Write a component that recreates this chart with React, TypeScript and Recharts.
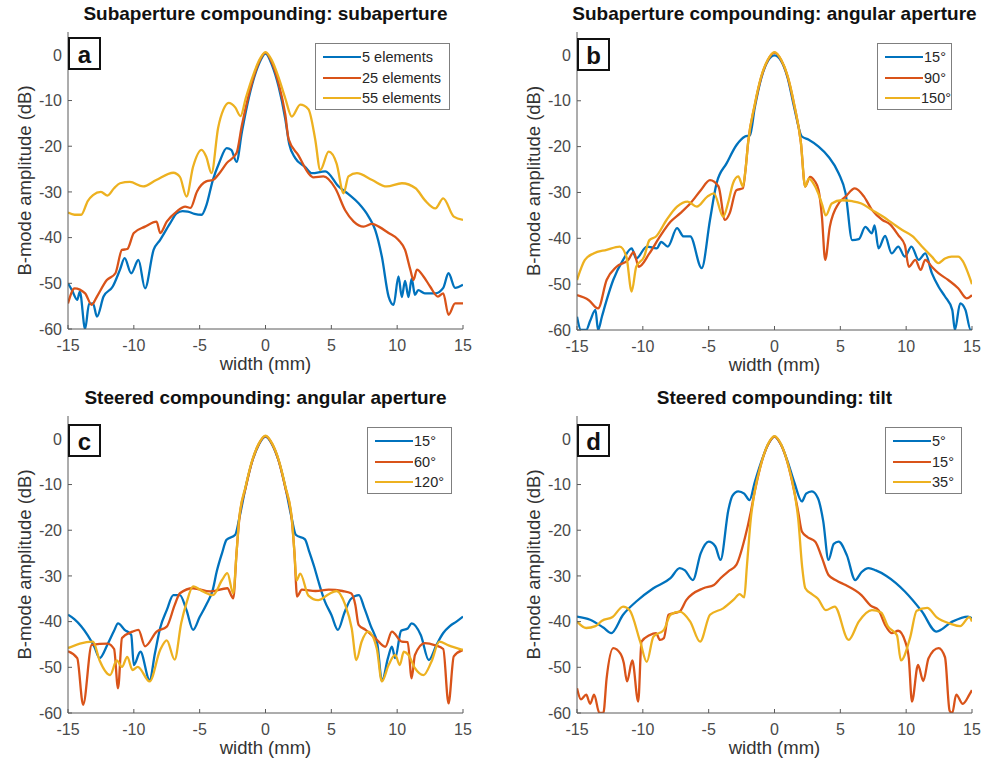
import React from 'react';
import { LineChart, Line, XAxis, YAxis, Legend } from 'recharts';

const FONT = '"Liberation Sans", Arial, Helvetica, sans-serif';
const COLORS = ['#0072BD', '#D95319', '#EDB120'];

const xTicks = [-15, -10, -5, 0, 5, 10, 15];
const yTicks = [-60, -50, -40, -30, -20, -10, 0];

// ---------- panel a: Subaperture compounding: subaperture ----------
const aNames = ['5 elements', '25 elements', '55 elements'];
const aBlue = [[-15,-50],[-14.7,-51.5],[-14.3,-53.6],[-14.1,-51.8],[-13.7,-60],[-13.4,-54.5],[-13.1,-54.4],[-12.8,-57.3],[-12.3,-52.9],[-11.6,-50.7],[-11.05,-47],[-10.7,-44.5],[-10.2,-47.8],[-9.65,-44.9],[-9.15,-51.1],[-8.5,-42.7],[-8,-40.5],[-7.25,-36.9],[-6.75,-34.7],[-6.3,-34.2],[-5.9,-34.3],[-5.4,-34.8],[-4.85,-35],[-4.5,-33],[-4,-27.4],[-3.5,-23.5],[-2.95,-20.4],[-2.6,-20.8],[-2.2,-23.4],[-1.8,-17],[-1.5,-12.5],[-1,-6.3],[-0.5,-2],[0,0.3],[0.5,-2.3],[1,-7],[1.5,-14],[1.8,-19.5],[2.26,-22.6],[3,-24.5],[3.53,-25.9],[4.54,-25.5],[5.55,-28.8],[6.3,-30.5],[7.07,-32.5],[7.83,-35.4],[8.33,-38.3],[8.84,-44.2],[9.35,-52.9],[9.73,-54.7],[10.1,-48.5],[10.35,-53],[10.6,-49.5],[10.86,-53],[11.1,-49],[11.35,-52.5],[11.6,-51.5],[12.1,-52.2],[12.9,-52.2],[13.5,-51],[13.9,-47.8],[14.4,-51],[15,-50.3]];
const aOrange = [[-15,-54.4],[-14.5,-51.1],[-13.7,-52.2],[-13.2,-54.7],[-12.8,-52.9],[-12.05,-49.3],[-11.4,-47.8],[-10.9,-42.7],[-10.5,-42.5],[-10,-39],[-9.15,-37.6],[-8.27,-36.5],[-8,-39],[-7.5,-36.5],[-6.75,-34.3],[-6.1,-33.2],[-5.7,-33.5],[-5.2,-29.9],[-4.5,-27.7],[-4,-27.4],[-3.5,-25.9],[-2.95,-23.7],[-2.2,-21.5],[-1.8,-15.5],[-1.5,-11.5],[-1,-5.8],[-0.5,-1.6],[0,0.5],[0.5,-1.8],[1,-6.3],[1.5,-13],[1.76,-18.5],[2.5,-22],[3.26,-25.9],[3.64,-26.8],[4.4,-26.6],[5.3,-29.2],[6.05,-34],[6.7,-36.5],[7.45,-37.6],[8.1,-37],[8.6,-37.6],[9.35,-39],[10.1,-40.5],[10.6,-42.7],[11,-47],[11.24,-49.3],[11.5,-47],[12,-48.5],[12.5,-50.7],[13.1,-52.9],[13.5,-52.2],[13.9,-56.9],[14.4,-54.4],[15,-54.4]];
const aYellow = [[-15,-34.5],[-14.5,-35],[-14,-35],[-13.5,-32],[-13.1,-30.7],[-12.5,-30],[-12,-30.8],[-11.5,-29.2],[-11.05,-28.1],[-10.3,-27.8],[-9.3,-28.8],[-8.3,-27.4],[-7,-25.8],[-6.5,-26.7],[-6,-31],[-5.5,-24.5],[-4.85,-20.8],[-4.5,-22.3],[-4.1,-25.9],[-3.6,-16],[-3.2,-12],[-2.8,-10.5],[-2.3,-11.5],[-1.9,-13.4],[-1.5,-9.5],[-1,-5],[-0.5,-1.3],[0,0.6],[0.5,-1.3],[1,-5],[1.5,-9.5],[2,-13.5],[2.64,-10.9],[3.26,-11.9],[3.77,-18.4],[4.16,-25.2],[4.8,-21.2],[5.4,-23.8],[5.93,-30.3],[6.3,-26.6],[6.94,-25.9],[8.1,-27.4],[9.2,-28.8],[10.36,-28.1],[11.4,-29.2],[12.1,-31.8],[12.9,-33.6],[13.5,-31.4],[14.3,-35.4],[15,-36.1]];

// ---------- panel b: Subaperture compounding: angular aperture ----------
const bNames = ['15°', '90°', '150°'];
const bBlue = [[-15,-57.1],[-14.7,-60],[-14.3,-60],[-14,-58],[-13.6,-55.6],[-13.4,-60],[-13.1,-57],[-12.75,-53.5],[-12.25,-49.1],[-11.5,-44.7],[-10.85,-42.2],[-10.5,-44.4],[-9.7,-41.8],[-8.95,-42.2],[-8.6,-40.8],[-8.1,-41.8],[-7.4,-37.8],[-6.9,-39.6],[-6.4,-39.6],[-5.53,-46.5],[-4.9,-36],[-4.4,-28],[-3.63,-23.6],[-2.87,-19.6],[-2.24,-17.8],[-1.86,-17.5],[-1.5,-11.5],[-1,-5],[-0.5,-1.3],[0,-0.1],[0.5,-1.3],[1,-5],[1.5,-11.5],[2.08,-17.8],[2.6,-18.5],[3.35,-20],[4.1,-22.2],[4.87,-25.8],[5.4,-30.2],[5.9,-40.4],[6.4,-40.2],[6.9,-37.5],[7.4,-38.9],[7.6,-37.2],[7.9,-42.2],[8.4,-39.5],[8.9,-43.3],[9.4,-41.8],[9.9,-44],[10.4,-41.8],[10.95,-44.7],[11.45,-43.3],[11.95,-47.6],[12.45,-50.5],[12.95,-52.7],[13.5,-55.6],[13.7,-60],[14.1,-54.2],[14.5,-55.6],[14.9,-60],[15,-60]];
const bOrange = [[-15,-52.4],[-14.1,-53.5],[-13.4,-55.3],[-12.75,-49.1],[-12,-46.2],[-11.1,-44.7],[-10.7,-43],[-10.3,-46.2],[-9.5,-43.3],[-8.7,-39.6],[-7.9,-36.4],[-7.15,-34.5],[-6.4,-32.4],[-5.6,-29.5],[-4.9,-27.3],[-4.25,-28.7],[-3.76,-36],[-3.4,-34.5],[-2.9,-29.5],[-2.4,-29.1],[-2.2,-25],[-2,-19],[-1.5,-11],[-1,-4.8],[-0.5,-1.1],[0,0.5],[0.5,-1.1],[1,-4.8],[1.5,-11],[2,-19],[2.33,-28.7],[2.7,-26.6],[3.05,-27.5],[3.35,-29.5],[3.6,-35.2],[3.85,-44.7],[4.2,-37.5],[4.87,-32.4],[5.4,-30.9],[6.1,-29.1],[6.8,-30.9],[7.4,-33.8],[8.2,-36],[8.8,-37],[9.4,-39.3],[9.9,-41.5],[10.2,-46.2],[10.7,-44.7],[11.1,-46.9],[11.45,-44.7],[11.95,-46.2],[12.45,-47.6],[13.2,-49.1],[13.95,-50.9],[14.6,-53.1],[15,-52.4]];
const bYellow = [[-15,-49.1],[-14.4,-44.7],[-13.75,-43.3],[-12.75,-42.5],[-11.75,-41.8],[-11.25,-44],[-10.85,-51.6],[-10.5,-46.2],[-9.9,-44],[-9.5,-40.4],[-9,-39.6],[-8.2,-36],[-7.4,-33.1],[-6.6,-32],[-5.9,-33.1],[-5.1,-30.9],[-4.6,-30.2],[-3.9,-35.3],[-3.5,-32],[-3.15,-28],[-2.75,-26.5],[-2.4,-28.7],[-2.2,-25],[-2,-19],[-1.5,-10.8],[-1,-4.6],[-0.5,-1],[0,0.6],[0.5,-1],[1,-4.6],[1.5,-10.8],[2,-19],[2.33,-28.7],[2.6,-27],[2.95,-28],[3.3,-30],[3.6,-32.5],[3.9,-35],[4.35,-32.4],[5.1,-31.7],[5.9,-31.9],[6.6,-32.4],[7.4,-33.8],[8.2,-35.2],[8.95,-36.7],[9.7,-38.2],[10.5,-39.6],[11.2,-41.8],[11.95,-44],[12.45,-45.4],[12.95,-44.4],[13.45,-44],[13.95,-44],[14.3,-45],[14.7,-47.6],[15,-50]];

// ---------- panel c: Steered compounding: angular aperture ----------
const cNames = ['15°', '60°', '120°'];
const cBlue = [[-15,-38.5],[-14.5,-39.5],[-14,-41],[-13.5,-43],[-13,-45.5],[-12.6,-48],[-12,-45],[-11.5,-42],[-11.2,-40.4],[-10.7,-41.8],[-10.2,-42.9],[-10,-49.5],[-9.5,-46.6],[-8.8,-52.8],[-8.4,-47],[-8,-41.4],[-7.5,-37.5],[-7,-34.2],[-6.5,-34.2],[-6,-37.5],[-5.5,-41.8],[-5,-39],[-4.5,-36.3],[-4,-33],[-3.7,-29],[-3.3,-25],[-2.96,-22.1],[-2.3,-21],[-2,-17.5],[-1.5,-10.5],[-1,-4.8],[-0.5,-1.2],[0,0.5],[0.5,-1.2],[1,-4.8],[1.5,-10.5],[2,-17.5],[2.3,-21],[3,-22],[3.3,-24.5],[3.7,-28],[4,-31],[4.5,-35.5],[5,-38.5],[5.5,-41.8],[6,-38],[6.5,-35],[7.1,-34.2],[7.5,-37],[8,-41],[8.5,-45],[8.85,-53],[9.3,-48],[9.6,-45.5],[9.85,-48],[10.3,-42],[10.8,-41.5],[11.1,-40.4],[11.8,-43],[12.4,-48.4],[13,-45],[13.5,-42.5],[14,-41],[14.5,-40],[15,-38.9]];
const cOrange = [[-15,-46.5],[-14.3,-48],[-13.85,-58.2],[-13.2,-45.1],[-12,-44.8],[-11.5,-46],[-11.2,-54.6],[-10.9,-43.6],[-10.1,-42.2],[-9.65,-41.8],[-9.15,-45.4],[-8.27,-42.2],[-7.5,-41.1],[-6.9,-36.4],[-6.5,-33.8],[-5.5,-32.7],[-4.2,-33.4],[-2.9,-32.7],[-2.45,-34.9],[-2.2,-25],[-2,-17.8],[-1.5,-10.6],[-1,-4.8],[-0.5,-1.1],[0,0.6],[0.5,-1.1],[1,-4.8],[1.5,-10.6],[2,-17.8],[2.2,-25],[2.4,-34.5],[2.76,-33],[3.8,-33.3],[4.8,-33],[5.85,-33.3],[6.5,-33.8],[6.82,-36.3],[7.07,-40.7],[7.6,-41.8],[8.33,-43.6],[9.1,-45.5],[9.6,-42.2],[10.35,-44.4],[10.8,-44.5],[11.1,-52.4],[11.35,-47.3],[12.1,-44.7],[12.9,-45.2],[13.5,-46],[13.9,-57.9],[14.3,-47.6],[15,-46.2]];
const cYellow = [[-15,-45.8],[-14.1,-44.8],[-13.1,-44.4],[-12.6,-48.5],[-11.8,-51.7],[-11.3,-48.5],[-10.9,-49.9],[-10.5,-47.7],[-10.1,-50.6],[-9.7,-49.9],[-8.8,-53.1],[-8,-46.2],[-7.5,-44.1],[-6.9,-48.3],[-6.4,-40.3],[-6,-35.9],[-5.5,-32.3],[-4.75,-33.4],[-4,-34.2],[-3.3,-30.9],[-2.9,-29.4],[-2.45,-33.8],[-2.2,-25],[-2,-17.5],[-1.5,-10.3],[-1,-4.6],[-0.5,-1],[0,0.7],[0.5,-1],[1,-4.6],[1.5,-10.3],[2,-17.5],[2.2,-25],[2.35,-31],[2.64,-29.5],[3.26,-34.3],[4,-35.3],[4.8,-34],[5.4,-33.3],[6.05,-36.3],[6.55,-41.5],[6.9,-48.4],[7.3,-44.4],[7.8,-42.2],[8.45,-45.9],[8.84,-53.1],[9.35,-49.5],[9.85,-47.3],[10.2,-49.5],[10.5,-46.6],[10.86,-47.3],[11.35,-50.2],[12,-51.7],[12.6,-48.8],[13.2,-44.4],[13.9,-45.2],[15,-46.2]];

// ---------- panel d: Steered compounding: tilt ----------
const dNames = ['5°', '15°', '35°'];
const dBlue = [[-15,-38.9],[-14,-39.6],[-13,-41.3],[-12.4,-42.5],[-11.5,-38.5],[-10.5,-35.6],[-9.2,-32.7],[-7.9,-30.5],[-7.2,-28.3],[-6.8,-28.8],[-6.2,-30.9],[-5.6,-25],[-5,-22.5],[-4.5,-23.5],[-4.1,-26.5],[-3.5,-15.5],[-3.2,-12.5],[-2.75,-11.5],[-2.3,-12],[-1.9,-13.4],[-1.5,-9.5],[-1,-5],[-0.5,-1.3],[0,0.5],[0.5,-1.3],[1,-5],[1.5,-9.5],[2.08,-13.7],[2.4,-12],[2.84,-11.5],[3.3,-13],[3.7,-18],[4.1,-26.5],[4.5,-23],[4.87,-22.5],[5.5,-25.5],[6.13,-30.9],[6.6,-29.2],[7.15,-28.3],[7.7,-28.8],[8.5,-30],[9.2,-31.5],[9.9,-33.4],[11.2,-37.8],[12.3,-42.2],[13.5,-40],[14.7,-38.9],[15,-39.3]];
const dOrange = [[-15,-54.6],[-14.7,-57],[-14.3,-56],[-14,-58],[-13.7,-56],[-13.3,-60],[-13,-60],[-12.75,-52.4],[-12.25,-45.8],[-11.7,-47],[-11.45,-49],[-11.2,-53.1],[-10.8,-48.5],[-10.35,-57.5],[-10.1,-44.4],[-9.5,-43],[-9,-42.5],[-8.7,-44],[-8.4,-43.6],[-8.05,-38.5],[-7.2,-37.8],[-6.7,-35.3],[-5.4,-32.7],[-4.6,-32],[-4.1,-30.5],[-3.5,-29],[-2.9,-27.6],[-2.25,-21.7],[-1.8,-16],[-1.5,-11.5],[-1,-5.3],[-0.5,-1.3],[0,0.5],[0.5,-1.3],[1,-5.3],[1.5,-11.5],[1.8,-16],[2.08,-20.3],[2.5,-21.5],[3.1,-22.5],[3.6,-26],[4.1,-29.8],[4.7,-31],[5.4,-32],[6.6,-34.2],[7.3,-36.5],[7.9,-37.5],[8.4,-40.7],[8.9,-42.5],[9.4,-42],[9.93,-44.4],[10.2,-48],[10.44,-57.5],[10.9,-49.5],[11.3,-53],[11.7,-48],[12.46,-45.8],[12.95,-47.8],[13.3,-59.5],[13.5,-60],[13.8,-56],[14.3,-58],[14.8,-56],[15,-55]];
const dYellow = [[-15,-40],[-14.3,-41.4],[-13.6,-41],[-13.1,-39.8],[-12.3,-39],[-11.5,-36.7],[-11,-37.5],[-10.2,-44.4],[-9.7,-48.8],[-9.2,-43.3],[-8.4,-41.8],[-7.9,-38.5],[-7.2,-37.8],[-6.4,-40],[-5.65,-44.4],[-4.9,-38.5],[-3.9,-37.1],[-3.1,-35.2],[-2.65,-34],[-2.3,-34.7],[-2.1,-28],[-1.8,-17.5],[-1.5,-11.5],[-1,-5.3],[-0.5,-1.2],[0,0.6],[0.5,-1.2],[1,-5.3],[1.5,-11.5],[1.8,-17.5],[2.1,-28],[2.34,-32.7],[2.84,-34],[3.3,-35],[3.9,-37.5],[4.57,-36.7],[5.63,-44],[6.4,-40],[7.4,-37.5],[8.1,-38],[8.6,-41],[9.3,-43],[9.6,-48.5],[10.3,-43.5],[10.8,-37.6],[11.6,-37],[12.3,-39],[13.4,-40.5],[14.1,-41],[14.8,-39],[15,-40]];

const toPts = (arr: number[][]) => arr.map(([x, y]) => ({ x, y }));

type Cfg = {
  key: string; left: number; top: number; w: number; h: number;
  l: number; r: number; t: number; b: number;
  title: string; letter: string; names: string[]; series: number[][][];
  leg: { x: number; y: number; w: number };
  boxY: number;
};

const panels: Cfg[] = [
  { key: 'a', left: 0, top: 0, w: 490, h: 385, l: 68, r: 463, t: 32, b: 329,
    title: 'Subaperture compounding: subaperture', letter: 'a', names: aNames,
    series: [aBlue, aOrange, aYellow], leg: { x: 315, y: 43, w: 135 }, boxY: 38 },
  { key: 'b', left: 490, top: 0, w: 495, h: 385, l: 87, r: 482, t: 32, b: 330,
    title: 'Subaperture compounding: angular aperture', letter: 'b', names: bNames,
    series: [bBlue, bOrange, bYellow], leg: { x: 387, y: 43, w: 75 }, boxY: 39 },
  { key: 'c', left: 0, top: 385, w: 490, h: 388, l: 68, r: 463, t: 31, b: 328,
    title: 'Steered compounding: angular aperture', letter: 'c', names: cNames,
    series: [cBlue, cOrange, cYellow], leg: { x: 367, y: 42, w: 85 }, boxY: 40 },
  { key: 'd', left: 490, top: 385, w: 495, h: 388, l: 87, r: 482, t: 31, b: 328,
    title: 'Steered compounding: tilt', letter: 'd', names: dNames,
    series: [dBlue, dOrange, dYellow], leg: { x: 395, y: 42, w: 77 }, boxY: 40 },
];

const AXIS = '#5a5a5a';
const TICK_TEXT = '#4a4a4a';

function makeLegend(w: number, names: string[]) {
  return () => (
    <div style={{ width: w, height: 67, boxSizing: 'border-box', border: '1px solid #7f7f7f', background: '#fff', paddingTop: 3, fontFamily: FONT, fontSize: 14.5, color: '#262626' }}>
      {names.map((n, i) => (
        <div key={i} style={{ height: 20.5, display: 'flex', alignItems: 'center' }}>
          <span style={{ display: 'inline-block', width: 38, height: 2.4, marginLeft: 7, background: COLORS[i] }} />
          <span style={{ marginLeft: 1, whiteSpace: 'nowrap', lineHeight: '20px' }}>{n}</span>
        </div>
      ))}
    </div>
  );
}

function Panel({ cfg }: { cfg: Cfg }) {
  const { left, top, w, h, l, r, t, b } = cfg;
  const margin = { top: t, right: w - r, bottom: h - b - 30, left: l - 40 };
  const cx = (l + r) / 2;
  const cy = (t + b) / 2;
  const yLabX = l - 44;
  return (
    <div style={{ position: 'absolute', left, top, width: w, height: h }}>
      <LineChart width={w} height={h} margin={margin}>
        <XAxis
          dataKey="x" type="number" domain={[-15, 15]} ticks={xTicks} interval={0}
          allowDataOverflow height={30} tickSize={-4} tickMargin={15}
          stroke={AXIS} tick={{ fill: TICK_TEXT, fontSize: 16, fontFamily: FONT }}
          label={() => (
            <text x={cx} y={b + 41} textAnchor="middle" fontFamily={FONT} fontSize={18.5} fill="#333">width (mm)</text>
          )}
        />
        <YAxis
          type="number" domain={[-60, 5]} ticks={yTicks} interval={0}
          allowDataOverflow width={40} tickSize={-4} tickMargin={10}
          stroke={AXIS} tick={{ fill: TICK_TEXT, fontSize: 16, fontFamily: FONT }}
          label={() => (
            <text x={yLabX} y={cy} transform={`rotate(-90 ${yLabX} ${cy})`} textAnchor="middle" dominantBaseline="central" fontFamily={FONT} fontSize={18.5} fill="#333">B-mode amplitude (dB)</text>
          )}
        />
        <Legend
          layout="vertical" align="center" verticalAlign="middle"
          wrapperStyle={{ left: cfg.leg.x, top: cfg.leg.y, width: cfg.leg.w, height: 67 }}
          content={makeLegend(cfg.leg.w, cfg.names)}
        />
        {cfg.series.map((s, i) => (
          <Line
            key={cfg.key + i}
            data={toPts(s)}
            dataKey="y"
            name={cfg.names[i]}
            type="monotone"
            stroke={COLORS[i]}
            strokeWidth={2.3}
            dot={false}
            activeDot={false}
            isAnimationActive={false}
          />
        ))}
      </LineChart>
      <svg width={w} height={h} style={{ position: 'absolute', left: 0, top: 0, pointerEvents: 'none' }}>
        <text x={cx} y={t - 12} textAnchor="middle" fontFamily={FONT} fontWeight="bold" fontSize={19} fill="#111">{cfg.title}</text>
        <rect x={l + 1} y={cfg.boxY} width={31} height={31} fill="#fff" stroke="#111" strokeWidth={2} />
        <text x={l + 16.5} y={cfg.boxY + 24.5} textAnchor="middle" fontFamily={FONT} fontWeight="bold" fontSize={24} fill="#111">{cfg.letter}</text>
      </svg>
    </div>
  );
}

export default function App() {
  return (
    <div style={{ position: 'absolute', left: 0, top: 0, width: 985, height: 773, background: '#fff', overflow: 'hidden' }}>
      {panels.map((p) => (
        <Panel key={p.key} cfg={p} />
      ))}
    </div>
  );
}
